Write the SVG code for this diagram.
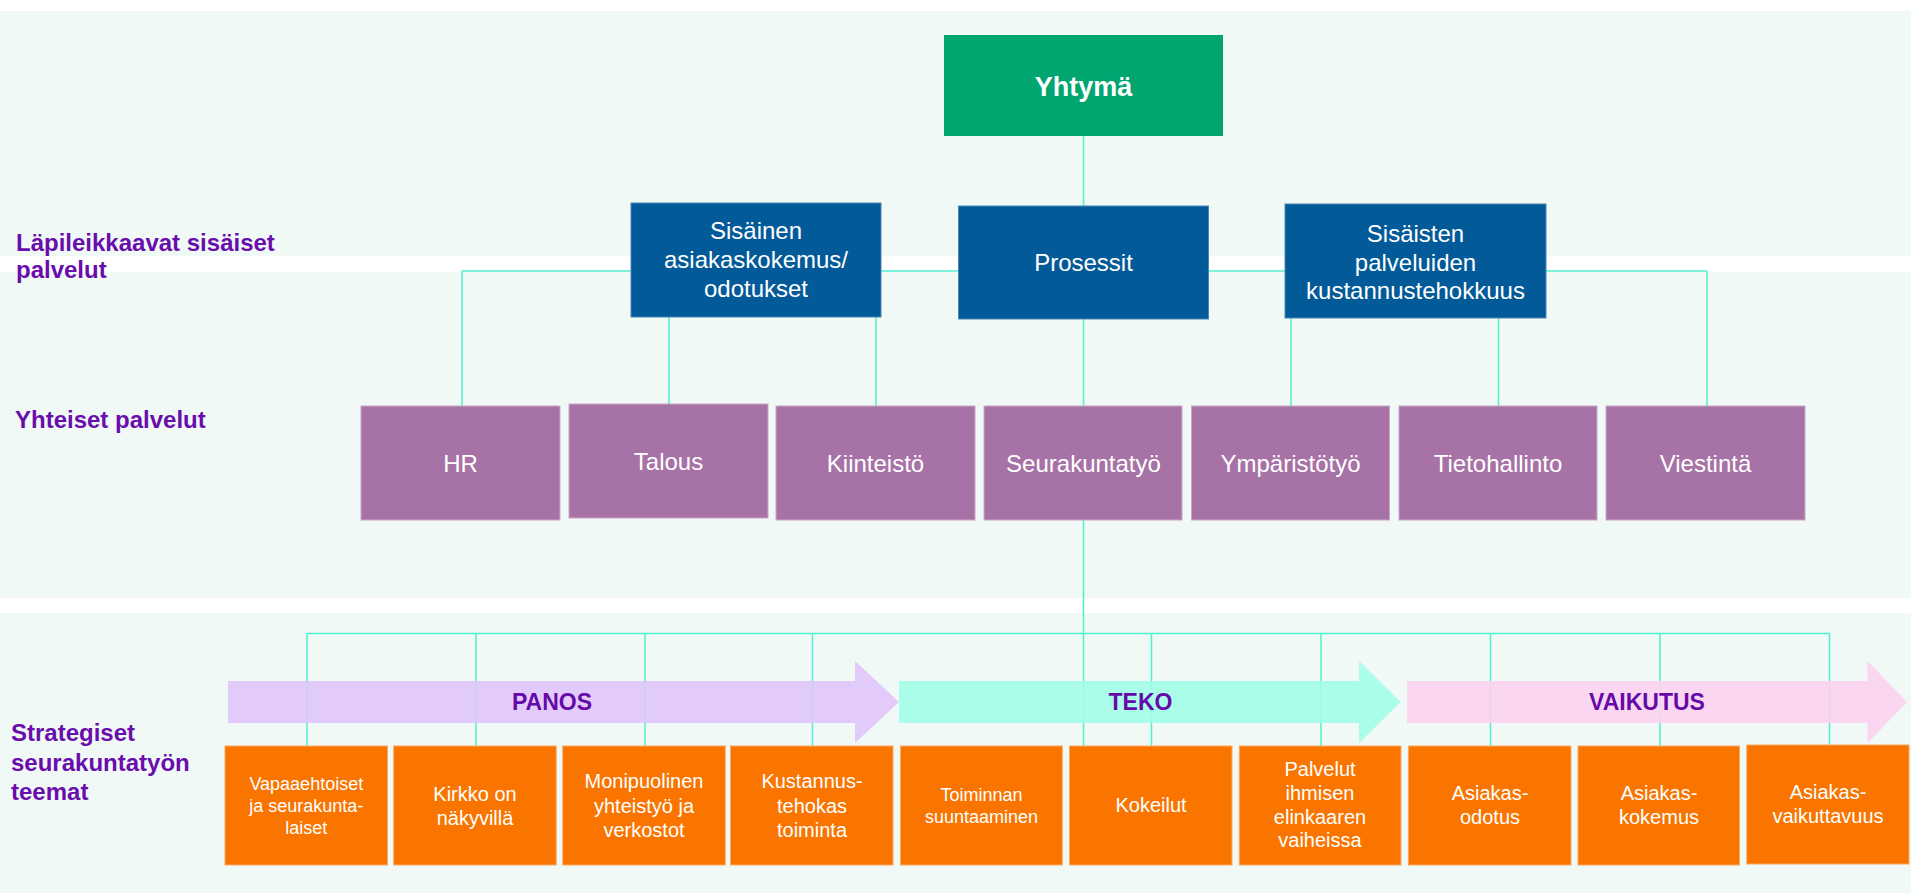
<svg xmlns="http://www.w3.org/2000/svg" width="1911" height="893" viewBox="0 0 1911 893">
<style>
.bg{fill:#f0f9f6}
.lbl{font-family:"Liberation Sans",Arial,sans-serif;font-weight:bold;font-size:24px;fill:#6a0dad}
.t{font-family:"Liberation Sans",Arial,sans-serif;fill:#ffffff;text-anchor:middle}
.t24{font-size:24px}
.t20{font-size:20px}
.t18{font-size:18px}
.green{fill:#00a56f}
.blue{fill:#035a98;stroke:#4a85b5;stroke-width:1}
.purple{fill:#a772a6;stroke:#c9a6c8;stroke-width:1}
.orange{fill:#f97500;stroke:#fba860;stroke-width:1}
.conn{stroke:#4ff0cf;stroke-width:1.5;fill:none}
.arr{fill-opacity:0.9}
.arrtxt{font-family:"Liberation Sans",Arial,sans-serif;font-weight:bold;font-size:23px;fill:#650aa8;text-anchor:middle}
</style>
<rect x="0" y="0" width="1911" height="893" fill="#ffffff"/>
<rect class="bg" x="0" y="11" width="1911" height="245"/>
<rect class="bg" x="0" y="272" width="1911" height="326"/>
<rect class="bg" x="0" y="613" width="1911" height="280"/>

<g id="labels">
<text class="lbl" x="16" y="251">Läpileikkaavat sisäiset</text>
<text class="lbl" x="16" y="278">palvelut</text>
<text class="lbl" x="15" y="428">Yhteiset palvelut</text>
<text class="lbl" x="11" y="741">Strategiset</text>
<text class="lbl" x="11" y="771">seurakuntatyön</text>
<text class="lbl" x="11" y="800">teemat</text>
</g>

<g id="connectors">
<path class="conn" d="M1083.5 136V206"/>
<path class="conn" d="M462 271H1707"/>
<path class="conn" d="M462 271V406M669 271V404M876 271V406M1291 271V406M1498.5 271V406M1707 271V406"/>
<path class="conn" d="M1083.5 319V406"/>
<path class="conn" d="M1083.5 520V746"/>
<path class="conn" d="M307 633.5H1829.5"/>
<path class="conn" d="M307 633.5V746M476 633.5V746M645 633.5V746M812.5 633.5V746M1151.5 633.5V746M1321 633.5V746M1490.5 633.5V746M1660 633.5V746M1829.5 633.5V745"/>
</g>

<g id="arrow-panos">
<path class="arr" d="M228 681H855V661L899 702L855 743V723H228Z" fill="#e0c5fb"/>
<text class="arrtxt" x="552" y="710">PANOS</text>
</g>
<g id="arrow-teko">
<path class="arr" d="M899 681H1359V661L1400.5 702L1359 743V723H899Z" fill="#a2fde8"/>
<text class="arrtxt" x="1140.5" y="710">TEKO</text>
</g>
<g id="arrow-vaikutus">
<path class="arr" d="M1407 681H1867.5V661L1907 702L1867.5 743V723H1407Z" fill="#fcd2ef"/>
<text class="arrtxt" x="1647" y="710">VAIKUTUS</text>
</g>

<g id="yhtyma">
<rect class="green" x="944" y="35" width="279" height="101"/>
<text class="t" x="1083.5" y="95.5" font-size="27" font-weight="bold">Yhtymä</text>
</g>

<g id="sisainen-asiakaskokemus">
<rect class="blue" x="631" y="203" width="250" height="114"/>
<text class="t t24" x="756" y="239">Sisäinen</text>
<text class="t t24" x="756" y="268">asiakaskokemus/</text>
<text class="t t24" x="756" y="297">odotukset</text>
</g>
<g id="prosessit">
<rect class="blue" x="958.5" y="206" width="250" height="113"/>
<text class="t t24" x="1083.5" y="271">Prosessit</text>
</g>
<g id="kustannustehokkuus">
<rect class="blue" x="1285" y="204" width="261" height="114"/>
<text class="t t24" x="1415.5" y="242">Sisäisten</text>
<text class="t t24" x="1415.5" y="271">palveluiden</text>
<text class="t t24" x="1415.5" y="299">kustannustehokkuus</text>
</g>

<g id="hr"><rect class="purple" x="361" y="406" width="199" height="114"/><text class="t t24" x="460.5" y="472">HR</text></g>
<g id="talous"><rect class="purple" x="569" y="404" width="199" height="114"/><text class="t t24" x="668.5" y="470">Talous</text></g>
<g id="kiinteisto"><rect class="purple" x="776" y="406" width="199" height="114"/><text class="t t24" x="875.5" y="472">Kiinteistö</text></g>
<g id="seurakuntatyo"><rect class="purple" x="984" y="406" width="198" height="114"/><text class="t t24" x="1083.5" y="472">Seurakuntatyö</text></g>
<g id="ymparistotyo"><rect class="purple" x="1191.5" y="406" width="198" height="114"/><text class="t t24" x="1290.5" y="472">Ympäristötyö</text></g>
<g id="tietohallinto"><rect class="purple" x="1399" y="406" width="198" height="114"/><text class="t t24" x="1498" y="472">Tietohallinto</text></g>
<g id="viestinta"><rect class="purple" x="1606" y="406" width="199" height="114"/><text class="t t24" x="1705.5" y="472">Viestintä</text></g>

<g id="vapaaehtoiset"><rect class="orange" x="225" y="746" width="162.5" height="119"/>
<text class="t t18" x="306.3" y="790">Vapaaehtoiset</text><text class="t t18" x="306.3" y="812">ja seurakunta-</text><text class="t t18" x="306.3" y="834">laiset</text></g>
<g id="kirkko"><rect class="orange" x="393.7" y="746" width="162.5" height="119"/>
<text class="t t20" x="475" y="801">Kirkko on</text><text class="t t20" x="475" y="825">näkyvillä</text></g>
<g id="monipuolinen"><rect class="orange" x="562.7" y="746" width="162.5" height="119"/>
<text class="t t20" x="644" y="788">Monipuolinen</text><text class="t t20" x="644" y="812.5">yhteistyö ja</text><text class="t t20" x="644" y="837">verkostot</text></g>
<g id="kustannustehokas"><rect class="orange" x="730.5" y="746" width="162.5" height="119"/>
<text class="t t20" x="812" y="788">Kustannus-</text><text class="t t20" x="812" y="812.5">tehokas</text><text class="t t20" x="812" y="837">toiminta</text></g>
<g id="toiminnan-suuntaaminen"><rect class="orange" x="900.6" y="746" width="161.7" height="119"/>
<text class="t t18" x="981.5" y="801">Toiminnan</text><text class="t t18" x="981.5" y="823">suuntaaminen</text></g>
<g id="kokeilut"><rect class="orange" x="1069.5" y="746" width="162.5" height="119"/>
<text class="t t20" x="1151" y="812">Kokeilut</text></g>
<g id="palvelut-elinkaari"><rect class="orange" x="1239.3" y="746" width="161.7" height="119"/>
<text class="t t20" x="1320" y="776">Palvelut</text><text class="t t20" x="1320" y="800">ihmisen</text><text class="t t20" x="1320" y="824">elinkaaren</text><text class="t t20" x="1320" y="847">vaiheissa</text></g>
<g id="asiakasodotus"><rect class="orange" x="1408.4" y="746" width="162.6" height="119"/>
<text class="t t20" x="1490" y="800">Asiakas-</text><text class="t t20" x="1490" y="824">odotus</text></g>
<g id="asiakaskokemus"><rect class="orange" x="1578" y="746" width="161.4" height="119"/>
<text class="t t20" x="1659" y="800">Asiakas-</text><text class="t t20" x="1659" y="824">kokemus</text></g>
<g id="asiakasvaikuttavuus"><rect class="orange" x="1746.8" y="745" width="162.2" height="119"/>
<text class="t t20" x="1828" y="799">Asiakas-</text><text class="t t20" x="1828" y="823">vaikuttavuus</text></g>
</svg>
